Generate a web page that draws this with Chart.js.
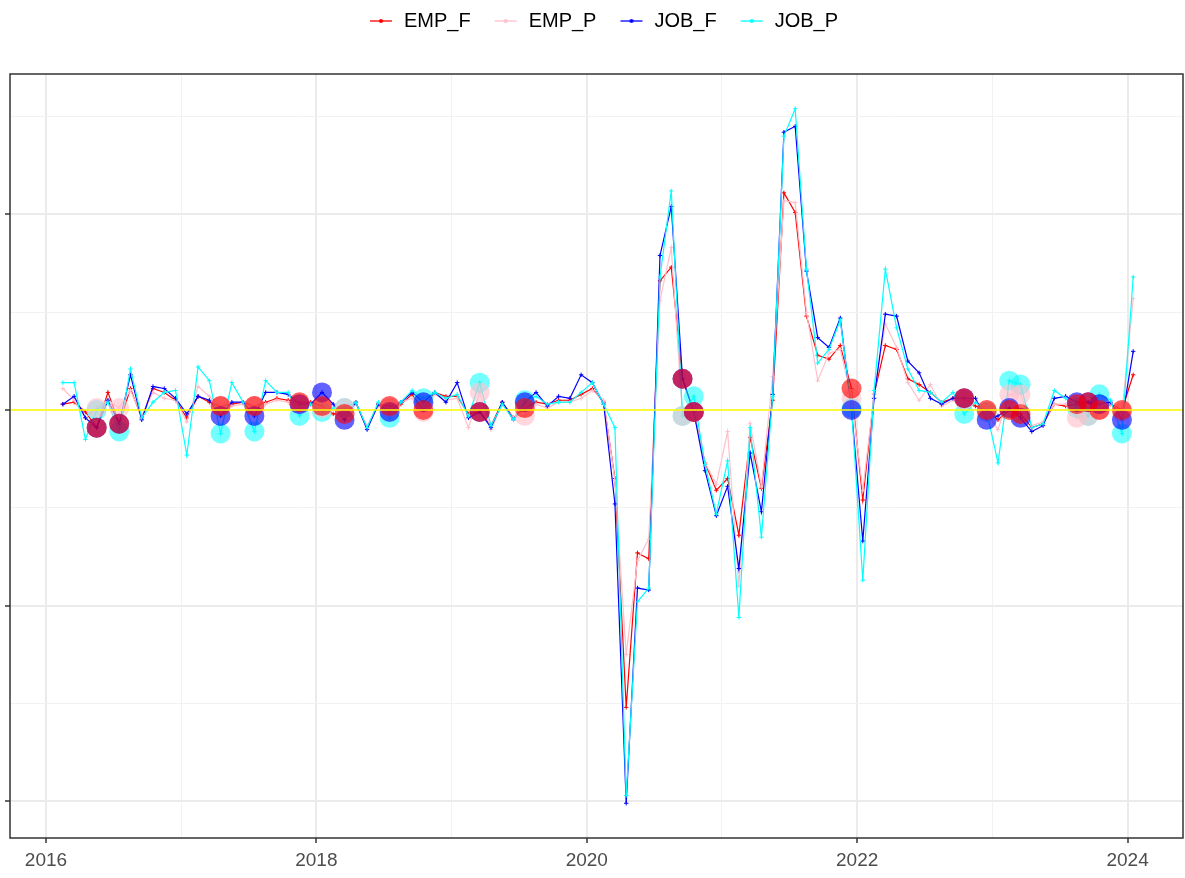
<!DOCTYPE html>
<html>
<head>
<meta charset="utf-8">
<script src="https://cdn.jsdelivr.net/npm/chart.js@4.4.1/dist/chart.umd.min.js"></script>
<style>
  html, body { margin: 0; padding: 0; background: #fff; }
</style>
</head>
<body>
<canvas id="chart" width="1185" height="878"></canvas>
<script>
// monthly observations, Feb 2016 .. Jan 2024
const startYear = 2016, startMonth = 2, nMonths = 96;
const months = [];
for (let k = 0; k < nMonths; k++) {
  const m = startMonth - 1 + k;
  months.push(`${startYear + Math.floor(m / 12)}-${String(m % 12 + 1).padStart(2, '0')}`);
}

const empF = [
  0.3, 0.4, -0.1, -0.9, 0.9, -0.7, 1.1, -0.4, 1.1, 0.9, 0.5, -0.4,
  0.7, 0.4, 0.2, 0.3, 0.4, 0.2, 0.4, 0.6, 0.5, 0.4, 0.4, 0.2,
  -0.2, -0.2, 0.4, -0.9, 0.3, 0.2, 0.3, 0.8, 0.0, 0.9, 0.7, 0.7,
  -0.2, -0.1, -0.8, 0.4, -0.4, 0.1, 0.4, 0.3, 0.5, 0.5, 0.8, 1.1,
  0.4, -3.5, -15.2, -7.3, -7.6, 6.6, 7.3, 1.6, -0.1, -2.7, -4.1, -3.5,
  -6.4, -1.4, -4.0, 0.5, 11.1, 10.1, 4.8, 2.8, 2.6, 3.3, 1.1, -4.6,
  0.8, 3.3, 3.1, 1.6, 1.3, 0.9, 0.4, 0.6, 0.6, 0.2, 0.0, -0.5,
  0.0, -0.2, -0.9, -0.7, 0.3, 0.2, 0.3, 0.4, 0.0, 0.3, 0.0, 1.8
];
const empP = [
  1.1, 0.5, -0.4, 0.1, 0.5, 0.1, 1.0, -0.3, 0.9, 0.6, 0.5, -0.6,
  1.2, 0.7, 0.2, 0.2, 0.3, 0.2, 0.3, 0.5, 0.4, 0.3, 0.3, 0.1,
  0.0, 0.1, 0.3, -0.8, 0.2, 0.1, 0.4, 0.6, -0.1, 0.8, 0.5, 0.6,
  -0.9, 0.9, -1.0, 0.3, -0.4, -0.3, 0.3, 0.1, 0.4, 0.4, 0.6, 1.0,
  0.5, -3.6, -12.5, -7.7, -6.6, 5.6, 8.3, -0.3, -0.1, -2.7, -3.8, -1.1,
  -9.0, -0.7, -3.9, 1.7, 10.7, 10.6, 5.0, 1.5, 2.9, 3.1, 0.6, -4.1,
  0.8, 4.4, 3.2, 1.4, 0.5, 1.3, 0.2, 0.5, 0.5, 0.4, -0.1, -1.0,
  0.8, 0.8, -0.8, -0.6, 0.3, 0.3, -0.4, -0.3, 0.0, 0.3, -0.1, 5.7
];
const jobF = [
  0.3, 0.7, -0.4, -0.9, 0.5, -0.7, 1.8, -0.5, 1.2, 1.1, 0.6, -0.2,
  0.7, 0.5, -0.3, 0.4, 0.4, -0.3, 0.9, 0.9, 0.8, 0.3, 0.3, 0.9,
  0.3, -0.5, 0.4, -1.0, 0.3, -0.1, 0.4, 0.9, 0.4, 0.9, 0.4, 1.4,
  -0.4, -0.1, -0.9, 0.4, -0.5, 0.4, 0.9, 0.2, 0.7, 0.6, 1.8, 1.4,
  0.3, -4.8, -20.1, -9.1, -9.2, 7.9, 10.4, 1.6, -0.1, -3.1, -5.4, -3.9,
  -8.1, -2.2, -5.2, 0.8, 14.2, 14.5, 7.1, 3.7, 3.2, 4.7, 0.0, -6.7,
  0.6, 4.9, 4.8, 2.5, 1.9, 0.6, 0.3, 0.6, 0.6, 0.6, -0.5, -0.3,
  0.1, -0.4, -1.1, -0.8, 0.6, 0.7, 0.4, 0.4, 0.3, 0.4, -0.5, 3.0
];
const jobP = [
  1.4, 1.4, -1.5, 0.0, 0.4, -1.1, 2.1, -0.4, 0.4, 0.9, 1.0, -2.3,
  2.2, 1.5, -1.2, 1.4, 0.4, -1.1, 1.5, 0.9, 0.9, -0.3, 0.3, -0.1,
  0.1, 0.1, 0.4, -0.9, 0.4, -0.4, 0.4, 1.0, 0.6, 0.9, 0.6, 0.8,
  -0.3, 1.4, -0.8, 0.3, -0.5, 0.5, 0.7, 0.3, 0.4, 0.4, 0.9, 1.4,
  0.3, -0.9, -19.7, -9.8, -9.1, 6.8, 11.2, -0.3, 0.7, -2.8, -5.3, -2.6,
  -10.6, -0.9, -6.5, 0.7, 14.0, 15.4, 7.2, 2.4, 3.1, 4.6, 0.1, -8.7,
  1.0, 7.2, 4.2, 2.1, 1.0, 0.9, 0.4, 0.9, -0.2, 0.4, -0.1, -2.7,
  1.5, 1.3, -0.9, -0.7, 1.0, 0.6, 0.1, -0.3, 0.8, 0.5, -1.2, 6.8
];

// months highlighted with big translucent dots
const flagged = [
  "2016-05", "2016-07", "2017-04", "2017-07", "2017-11", "2018-01", "2018-03",
  "2018-07", "2018-10", "2019-03", "2019-07", "2020-09", "2020-10", "2021-12",
  "2022-10", "2022-12", "2023-02", "2023-03", "2023-08", "2023-09", "2023-10", "2023-12"
];

const xMajor = [2016, 2018, 2020, 2022, 2024];
const xMinor = [2017, 2019, 2021, 2023];
const yMajor = [-20, -10, 0, 10];
const yMinor = [-15, -5, 5, 15];

const toX = m => { const [y, mo] = m.split('-').map(Number); return y + (mo - 0.5) / 12; };

const series = [
  { name: 'EMP_F', values: empF, color: '#ff0000', dot: 'rgba(255,0,0,0.62)' },
  { name: 'EMP_P', values: empP, color: '#ffc0cb', dot: 'rgba(255,192,203,0.62)' },
  { name: 'JOB_F', values: jobF, color: '#0000ff', dot: 'rgba(0,0,255,0.62)' },
  { name: 'JOB_P', values: jobP, color: '#00ffff', dot: 'rgba(0,255,255,0.55)' }
];

function keyImage(color) {
  const c = document.createElement('canvas');
  c.width = 24; c.height = 10;
  const g = c.getContext('2d');
  g.strokeStyle = color; g.lineWidth = 1.3;
  g.beginPath(); g.moveTo(1, 5); g.lineTo(23, 5); g.stroke();
  g.fillStyle = color;
  g.beginPath(); g.arc(12, 5, 2, 0, Math.PI * 2); g.fill();
  return c;
}

const lineOrder = [4, 3, 2, 1];
const dotOrder = [0.1, 0.3, 0.2, 0.4];

const datasets = [];
series.forEach((s, i) => {
  datasets.push({
    label: s.name,
    type: 'line',
    data: months.map((m, k) => ({ x: toX(m), y: s.values[k] })),
    borderColor: s.color,
    backgroundColor: s.color,
    borderWidth: 1.2,
    pointStyle: 'cross',
    pointRadius: 2.2,
    pointBorderWidth: 1,
    tension: 0,
    order: lineOrder[i],
    keyImg: keyImage(s.color)
  });
});
series.forEach((s, i) => {
  datasets.push({
    label: s.name + ' flag',
    type: 'scatter',
    data: flagged.map(m => ({ x: toX(m), y: s.values[months.indexOf(m)] })),
    backgroundColor: s.dot,
    borderWidth: 0,
    pointRadius: 10,
    order: dotOrder[i]
  });
});

// legend sizing/offset, panel frame and yellow zero line
const frame = {
  id: 'frame',
  beforeInit(chart) {
    const lg = chart.legend;
    const fit = lg.fit;
    lg.fit = function () { fit.call(this); this.height = 74; };
    const draw = lg.draw;
    lg.draw = function () {
      const ctx = this.ctx;
      ctx.save(); ctx.translate(9, -11); draw.call(this); ctx.restore();
    };
  },
  afterDatasetsDraw(chart) {
    const { ctx, chartArea: a, scales } = chart;
    const y0 = scales.y.getPixelForValue(0);
    ctx.save();
    ctx.strokeStyle = 'rgba(255,255,0,0.75)';
    ctx.lineWidth = 2;
    ctx.beginPath(); ctx.moveTo(a.left, y0); ctx.lineTo(a.right, y0); ctx.stroke();
    ctx.strokeStyle = '#333333';
    ctx.lineWidth = 1.5;
    ctx.strokeRect(a.left, a.top, a.right - a.left, a.bottom - a.top);
    ctx.restore();
  }
};

new Chart(document.getElementById('chart').getContext('2d'), {
  type: 'line',
  data: { datasets },
  plugins: [frame],
  options: {
    responsive: false,
    animation: false,
    devicePixelRatio: 1,
    layout: { autoPadding: false, padding: { left: 5, right: 2, top: 0, bottom: 0 } },
    plugins: {
      tooltip: { enabled: false },
      legend: {
        position: 'top',
        labels: {
          usePointStyle: true,
          pointStyleWidth: 26,
          padding: 22,
          color: '#000',
          font: { family: 'Liberation Sans, Arial, sans-serif', size: 20 },
          filter: item => !item.text.endsWith(' flag'),
          sort: (a, b) => a.datasetIndex - b.datasetIndex,
          generateLabels: chart => Chart.defaults.plugins.legend.labels.generateLabels(chart)
            .map(l => ({ ...l, pointStyle: chart.data.datasets[l.datasetIndex].keyImg }))
        }
      }
    },
    scales: {
      x: {
        type: 'linear',
        min: 2015.734,
        max: 2024.41,
        afterBuildTicks: ax => { ax.ticks = [...xMajor, ...xMinor].sort((a, b) => a - b).map(v => ({ value: v })); },
        afterFit: ax => { ax.height = 40; ax.paddingLeft = 0; ax.paddingRight = 0; },
        border: { display: false },
        grid: {
          color: c => xMajor.includes(c.tick.value) ? '#ebebeb' : '#f2f2f2',
          lineWidth: c => xMajor.includes(c.tick.value) ? 2 : 1,
          tickColor: c => xMajor.includes(c.tick.value) ? '#333333' : 'rgba(0,0,0,0)',
          tickWidth: 1.5,
          tickLength: 5
        },
        ticks: {
          autoSkip: false,
          maxRotation: 0,
          padding: 6,
          color: '#4d4d4d',
          font: { family: 'Liberation Sans, Arial, sans-serif', size: 19 },
          callback: v => xMajor.includes(v) ? String(v) : ''
        }
      },
      y: {
        min: -21.875,
        max: 17.175,
        afterBuildTicks: ax => { ax.ticks = [...yMajor, ...yMinor].sort((a, b) => a - b).map(v => ({ value: v })); },
        afterFit: ax => { ax.width = 5; },
        border: { display: false },
        grid: {
          color: c => yMajor.includes(c.tick.value) ? '#ebebeb' : '#f2f2f2',
          lineWidth: c => yMajor.includes(c.tick.value) ? 2 : 1,
          tickColor: c => yMajor.includes(c.tick.value) ? '#333333' : 'rgba(0,0,0,0)',
          tickWidth: 1.5,
          tickLength: 5
        },
        ticks: { display: false }
      }
    }
  }
});
</script>
</body>
</html>
